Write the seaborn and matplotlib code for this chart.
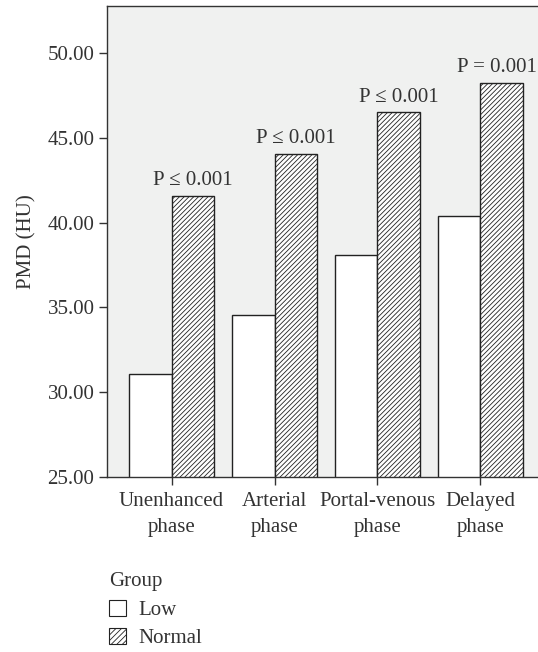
import matplotlib
matplotlib.use("Agg")
import matplotlib.pyplot as plt
import seaborn as sns
import pandas as pd
from matplotlib.patches import Patch

phases = ["Unenhanced\nphase", "Arterial\nphase", "Portal-venous\nphase", "Delayed\nphase"]
groups = ["Low", "Normal"]
low_vals = [31.06, 34.53, 38.12, 40.37]
normal_vals = [41.60, 44.06, 46.51, 48.24]
p_labels = ["P \u2264 0.001", "P \u2264 0.001", "P \u2264 0.001", "P = 0.001"]
y_ticks = [25, 30, 35, 40, 45, 50]

df = pd.DataFrame({
    "Phase": phases * 2,
    "Group": ["Low"] * 4 + ["Normal"] * 4,
    "PMD": low_vals + normal_vals,
})

FS = 15

sns.set_theme(style="white")
plt.rcParams["font.family"] = ["Liberation Serif", "DejaVu Serif"]
plt.rcParams["hatch.linewidth"] = 0.6
plt.rcParams["hatch.color"] = "#333333"

fig = plt.figure(figsize=(5.38, 6.52), dpi=100)
ax = fig.add_axes([107 / 538, 1 - 477 / 652, (545 - 107) / 538, (477 - 6) / 652])
ax.set_facecolor("#f0f1f0")

sns.barplot(data=df, x="Phase", y="PMD", hue="Group", hue_order=groups,
            palette=["white", "white"], width=0.82, gap=0, ax=ax,
            edgecolor="#222222", linewidth=1.0, errorbar=None, legend=False)

for patch in ax.containers[1]:
    patch.set_hatch("///////")

ax.set_ylim(25, 52.78)
ax.set_xlim(-0.627, 3.627)
ax.set_yticks(y_ticks)
ax.set_yticklabels([f"{v:.2f}" for v in y_ticks])
ax.set_xlabel("")
ax.set_ylabel("PMD (HU)", fontsize=FS, color="#333333", labelpad=8)

n = len(p_labels)
for i, (bar, lab) in enumerate(zip(ax.containers[1], p_labels)):
    dx = -3 if i == n - 1 else 0
    ax.annotate(lab, (bar.get_x() + bar.get_width() / 2, bar.get_height()),
                xytext=(dx, 4), textcoords="offset points",
                ha="center", va="bottom", fontsize=FS, color="#333333")

for s in ["left", "bottom", "top", "right"]:
    ax.spines[s].set_visible(True)
    ax.spines[s].set_color("#333333")
    ax.spines[s].set_linewidth(1.0)

ax.tick_params(axis="both", direction="out", length=6, width=1.0, color="#333333",
               labelsize=FS, labelcolor="#333333", left=True, bottom=True)
ax.tick_params(axis="x", pad=5)
ax.tick_params(axis="y", pad=3)
for t in ax.get_xticklabels():
    t.set_linespacing(1.45)

handles = [Patch(facecolor="white", edgecolor="#222222", linewidth=0.8, label="Low"),
           Patch(facecolor="white", edgecolor="#222222", linewidth=0.8, hatch="//////", label="Normal")]
leg = fig.legend(handles=handles, title="Group", loc="upper left",
                 bbox_to_anchor=(101 / 538, 1 - 564 / 652), frameon=False,
                 fontsize=FS, title_fontsize=FS, alignment="left",
                 handlelength=0.8, handleheight=0.8, handletextpad=0.6,
                 labelspacing=0.4, borderaxespad=0)
for t in leg.get_texts():
    t.set_color("#333333")
leg.get_title().set_color("#333333")

fig.savefig("out.png", dpi=100)
